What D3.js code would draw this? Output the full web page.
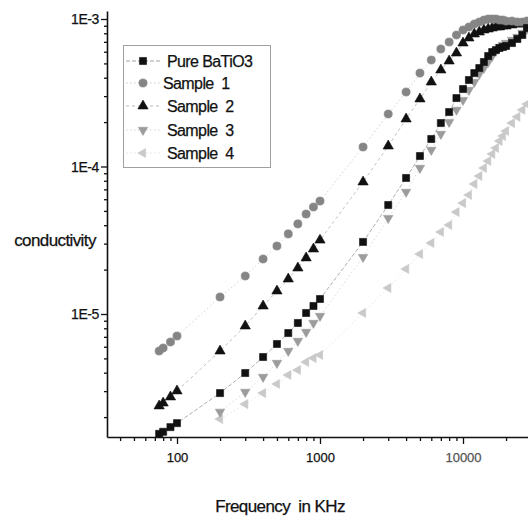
<!DOCTYPE html>
<html>
<head>
<meta charset="utf-8">
<script src="https://cdn.jsdelivr.net/npm/d3@7/dist/d3.min.js"></script>
<style>
    html, body { margin: 0; padding: 0; background: #fff; }
    #chart { width: 528px; height: 518px; overflow: hidden; }
    text { font-family: Arial, "Liberation Sans", sans-serif; fill: #111; stroke: #111; stroke-width: 0.25px; }
</style>
</head>
<body>
<div id="chart"></div>
<script>
// frequencies (KHz)
const freqAll = [75, 80, 90, 100, 200, 300, 400, 500, 600, 700, 800, 900, 1000,
    2000, 3000, 4000, 5000, 6000, 7000, 8000, 9000, 10000,
    11000, 12000, 13000, 14000, 15000, 16000, 17000, 18000, 19000, 20000,
    22000, 24000, 26000, 28000];
const freqFrom200 = [200, 300, 400, 500, 600, 700, 800, 900, 1000,
    2000, 3000, 4000, 5000, 6000, 7000, 8000, 9000, 10000,
    11000, 12000, 13000, 14000, 15000, 16000, 17000, 18000, 19000, 20000,
    22000, 24000, 26000, 28000];

const pureBaTiO3 = [1.54e-6, 1.59e-6, 1.71e-6, 1.82e-6, 2.91e-6, 3.98e-6, 5.11e-6, 6.26e-6,
    7.43e-6, 8.69e-6, 1.016e-5, 1.133e-5, 1.264e-5, 3.08e-5, 5.48e-5, 8.36e-5, 1.178e-4,
    1.536e-4, 1.97e-4, 2.34e-4, 2.91e-4, 3.35e-4, 3.86e-4, 4.30e-4, 4.65e-4, 5.11e-4,
    5.61e-4, 5.97e-4, 6.16e-4, 6.36e-4, 6.46e-4, 6.56e-4, 6.87e-4, 7.32e-4, 7.79e-4, 8.69e-4];
const sample1 = [5.61e-6, 5.88e-6, 6.46e-6, 7.09e-6, 1.304e-5, 1.81e-5, 2.36e-5, 2.89e-5,
    3.49e-5, 4.08e-5, 4.76e-5, 5.31e-5, 5.83e-5, 1.356e-4, 2.27e-4, 3.20e-4, 4.30e-4,
    5.27e-4, 6.26e-4, 6.98e-4, 7.79e-4, 8.42e-4, 8.83e-4, 9.25e-4, 9.54e-4, 9.84e-4,
    1.0e-3, 1.0e-3, 1.0e-3, 9.84e-4, 9.84e-4, 9.69e-4, 9.69e-4, 9.54e-4, 9.54e-4, 9.69e-4];
const sample2 = [2.38e-6, 2.49e-6, 2.74e-6, 3.01e-6, 5.61e-6, 8.29e-6, 1.133e-5, 1.432e-5,
    1.727e-5, 2.05e-5, 2.40e-5, 2.76e-5, 3.17e-5, 7.85e-5, 1.377e-4, 2.10e-4, 2.87e-4,
    3.74e-4, 4.51e-4, 5.19e-4, 5.88e-4, 6.87e-4, 7.43e-4, 7.91e-4, 8.16e-4, 8.42e-4,
    8.55e-4, 8.69e-4, 8.83e-4, 8.83e-4, 8.97e-4, 8.97e-4, 9.11e-4, 9.25e-4, 9.25e-4, 9.40e-4];
const sample3 = [2.17e-6, 2.96e-6, 3.74e-6, 4.65e-6, 5.61e-6, 6.56e-6, 7.55e-6, 8.69e-6,
    9.69e-6, 2.43e-5, 4.47e-5, 6.72e-5, 9.77e-5, 1.294e-4, 1.661e-4, 2.00e-4, 2.42e-4,
    2.82e-4, 3.30e-4, 3.74e-4, 4.24e-4, 4.65e-4, 5.11e-4, 5.61e-4, 6.07e-4, 6.46e-4,
    6.66e-4, 6.87e-4, 7.20e-4, 7.55e-4, 8.04e-4, 8.55e-4];
const sample4 = [1.94e-6, 2.45e-6, 2.91e-6, 3.35e-6, 3.86e-6, 4.17e-6, 4.73e-6, 5.03e-6,
    5.27e-6, 1.016e-5, 1.50e-5, 2.02e-5, 2.55e-5, 3.03e-5, 3.60e-5, 4.01e-5, 4.91e-5,
    5.65e-5, 6.41e-5, 7.61e-5, 8.62e-5, 9.77e-5, 1.09e-4, 1.215e-4, 1.335e-4, 1.489e-4,
    1.61e-4, 1.74e-4, 1.97e-4, 2.17e-4, 2.42e-4, 2.65e-4];

const seriesNames = ["Pure BaTiO3", "Sample  1", "Sample  2", "Sample  3", "Sample  4"];
const yMajor = [1e-5, 1e-4, 1e-3];
const xMajor = [100, 1000, 10000];

const width = 528, height = 518;

// calibrate on the decades, then stretch to the drawn axis extent
let xBase = d3.scaleLog().domain([100, 10000]).range([177, 463]);
let yBase = d3.scaleLog().domain([1e-5, 1e-3]).range([314, 19]);
let x = d3.scaleLog().domain([xBase.invert(107), xBase.invert(528)]).range([107, 528]);
let y = d3.scaleLog().domain([yBase.invert(437), yBase.invert(11)]).range([437, 11]);

let svg = d3.select("#chart")
    .append("svg")
    .attr("width", width)
    .attr("height", height);

let sym = d3.symbol();
let styles = [
    { data: pureBaTiO3, freq: freqAll, shape: d3.symbolSquare, size: 50, rot: 0, fill: "#111", line: "#9a9a9a", dash: "4,2" },
    { data: sample1, freq: freqAll, shape: d3.symbolCircle, size: 52, rot: 0, fill: "#858585", line: "#c4c4c4", dash: "1.5,2.5" },
    { data: sample2, freq: freqAll, shape: d3.symbolTriangle, size: 46, rot: 0, fill: "#111", line: "#b0b0b0", dash: "3,3" },
    { data: sample3, freq: freqFrom200, shape: d3.symbolTriangle, size: 38, rot: 180, fill: "#9c9c9c", line: "#cfcfcf", dash: "1.5,2.5" },
    { data: sample4, freq: freqFrom200, shape: d3.symbolTriangle, size: 36, rot: -90, fill: "#c9c9c9", line: "#dedede", dash: "1.5,2.5" }
];

// faint connecting lines
let line = d3.line()
    .x(d => x(d[0]))
    .y(d => y(d[1]));

let plot = svg.append("g");
styles.slice().reverse().forEach(s => {
    let pts = s.freq.map((f, i) => [f, s.data[i]]);
    plot.append("path")
        .attr("d", line(pts))
        .attr("fill", "none")
        .attr("stroke", s.line)
        .attr("stroke-width", 0.8)
        .attr("stroke-dasharray", s.dash);
});

styles.slice().reverse().forEach(s => {
    let pts = s.freq.map((f, i) => [f, s.data[i]]);
    plot.selectAll(null)
        .data(pts)
        .enter()
        .append("path")
        .attr("d", sym.type(s.shape).size(s.size)())
        .attr("transform", d => `translate(${x(d[0])},${y(d[1])}) rotate(${s.rot})`)
        .attr("fill", s.fill)
        .attr("stroke", s.fill)
        .attr("stroke-width", 0.6);
});

// y axis, log minors on the outside
let yTicks = [];
[1e-6, 1e-5, 1e-4].forEach(dec => {
    for (let k = 1; k <= 9; k++) yTicks.push(dec * k);
});
yTicks.push(1e-3);
yTicks = yTicks.filter(v => v >= y.domain()[0] && v <= y.domain()[1]);

let yAxis = svg.append("g")
    .attr("transform", "translate(107,0)")
    .call(d3.axisLeft(y).tickValues(yTicks).tickSizeOuter(0)
        .tickFormat(d => yMajor.includes(d) ? "1E" + Math.round(Math.log10(d)) : ""));
yAxis.select(".domain").attr("stroke", "#111").attr("stroke-width", 1.6);
yAxis.selectAll(".tick line")
    .attr("stroke", "#111")
    .attr("stroke-width", 1.3)
    .attr("x2", d => yMajor.some(m => Math.abs(m - d) / m < 1e-6) ? -6 : -3);
yAxis.selectAll(".tick text")
    .attr("x", -8)
    .attr("dy", "0.35em")
    .style("font-size", "14px")
    .style("letter-spacing", "-0.4px");

// x axis
let xTicks = [];
[10, 100, 1000, 10000].forEach(dec => {
    for (let k = 1; k <= 9; k++) xTicks.push(dec * k);
});
xTicks = xTicks.filter(v => v >= x.domain()[0] && v <= x.domain()[1]);

let xAxis = svg.append("g")
    .attr("transform", "translate(0,437)")
    .call(d3.axisBottom(x).tickValues(xTicks).tickSizeOuter(0)
        .tickFormat(d => xMajor.includes(d) ? String(d) : ""));
xAxis.select(".domain").attr("stroke", "#111").attr("stroke-width", 1.6);
xAxis.selectAll(".tick line")
    .attr("stroke", "#111")
    .attr("stroke-width", 1.3)
    .attr("y2", d => xMajor.includes(d) ? 7 : 4);
xAxis.selectAll(".tick text")
    .attr("y", 16)
    .style("font-size", "13px")
    .style("fill", d => d === 10000 ? "#555" : "#111")
    .style("stroke", d => d === 10000 ? "#555" : "#111");

// axis titles
svg.append("text")
    .attr("x", 280)
    .attr("y", 512)
    .attr("text-anchor", "middle")
    .style("font-size", "17px")
    .style("letter-spacing", "-0.6px")
    .style("white-space", "pre")
    .text("Frequency  in KHz");

svg.append("text")
    .attr("x", 55)
    .attr("y", 246)
    .attr("text-anchor", "middle")
    .style("font-size", "17px")
    .style("letter-spacing", "-0.6px")
    .text("conductivity");

// legend
let legend = svg.append("g");
legend.append("rect")
    .attr("x", 123.5)
    .attr("y", 45.5)
    .attr("width", 147)
    .attr("height", 122)
    .attr("fill", "#fff")
    .attr("stroke", "#a0a0a0")
    .attr("stroke-width", 1);

let legendY = [61, 83, 106, 130, 153];
let item = legend.selectAll(".item")
    .data(styles)
    .enter()
    .append("g")
    .attr("transform", (d, i) => `translate(0,${legendY[i]})`);

item.append("line")
    .attr("x1", 126).attr("x2", 160)
    .attr("stroke", d => d.line)
    .attr("stroke-width", 0.9)
    .attr("stroke-dasharray", d => d.dash);

item.append("path")
    .attr("d", d => sym.type(d.shape).size(d.size)())
    .attr("transform", d => `translate(143,0) rotate(${d.rot})`)
    .attr("fill", d => d.fill)
    .attr("stroke", d => d.fill)
    .attr("stroke-width", 0.6);

item.append("text")
    .attr("x", (d, i) => i === 1 ? 163 : 167)
    .attr("dy", "0.36em")
    .style("font-size", "16px")
    .style("letter-spacing", "-0.6px")
    .style("white-space", "pre")
    .text((d, i) => seriesNames[i]);
</script>
</body>
</html>
